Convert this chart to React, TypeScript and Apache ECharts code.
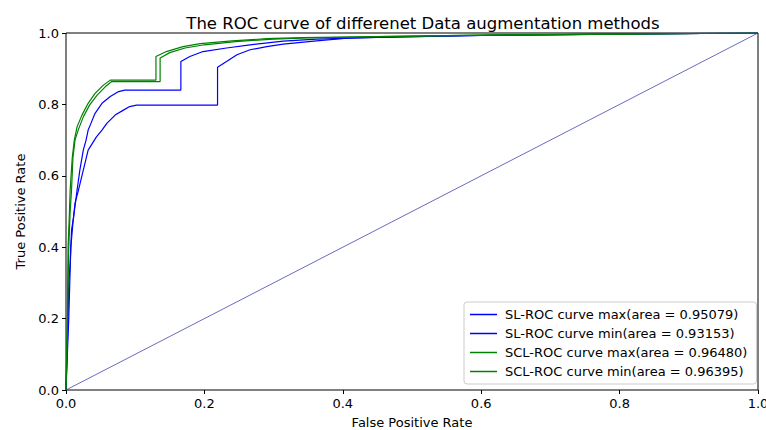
import React, { useEffect, useRef } from "react";
import * as echarts from "echarts";

const titleText = "The ROC curve of differenet Data augmentation methods";
const xAxisName = "False Positive Rate";
const yAxisName = "True Positive Rate";

const seriesNames = [
  "SL-ROC curve max(area = 0.95079)",
  "SL-ROC curve min(area = 0.93153)",
  "SCL-ROC curve max(area = 0.96480)",
  "SCL-ROC curve min(area = 0.96395)",
];

const slMax: number[][] = [
  [0, 0], [0.003, 0.2], [0.004, 0.3], [0.006, 0.355], [0.008, 0.448], [0.011, 0.485],
  [0.014, 0.53], [0.016, 0.56], [0.020, 0.616], [0.025, 0.672], [0.029, 0.70],
  [0.032, 0.728], [0.035, 0.742], [0.042, 0.775], [0.052, 0.803], [0.064, 0.822],
  [0.076, 0.836], [0.085, 0.840], [0.166, 0.840], [0.166, 0.920], [0.179, 0.934],
  [0.198, 0.948], [0.232, 0.958], [0.266, 0.967], [0.314, 0.977], [0.362, 0.983],
  [0.45, 0.988], [0.6, 0.993], [0.8, 0.997], [1, 1],
];

const slMin: number[][] = [
  [0, 0], [0.004, 0.2], [0.006, 0.336], [0.007, 0.401], [0.010, 0.467], [0.013, 0.523],
  [0.018, 0.56], [0.025, 0.616], [0.032, 0.672], [0.044, 0.709], [0.052, 0.728],
  [0.059, 0.747], [0.071, 0.77], [0.083, 0.784], [0.092, 0.794], [0.102, 0.798],
  [0.219, 0.798], [0.219, 0.904], [0.232, 0.920], [0.247, 0.939], [0.266, 0.953],
  [0.290, 0.962], [0.314, 0.969], [0.362, 0.978], [0.41, 0.986], [0.5, 0.99],
  [0.6, 0.993], [0.8, 0.997], [1, 1],
];

const sclMax: number[][] = [
  [0, 0], [0.002, 0.2], [0.003, 0.40], [0.005, 0.50], [0.006, 0.56], [0.009, 0.65],
  [0.012, 0.70], [0.016, 0.737], [0.023, 0.77], [0.032, 0.803], [0.042, 0.831],
  [0.054, 0.854], [0.064, 0.868], [0.130, 0.868], [0.130, 0.934], [0.145, 0.948],
  [0.169, 0.962], [0.194, 0.97], [0.24, 0.978], [0.29, 0.984], [0.34, 0.987],
  [0.45, 0.99], [0.6, 0.994], [0.8, 0.997], [1, 1],
];

const sclMin: number[][] = [
  [0, 0], [0.002, 0.18], [0.004, 0.40], [0.006, 0.50], [0.008, 0.56], [0.010, 0.65],
  [0.013, 0.70], [0.018, 0.73], [0.025, 0.765], [0.034, 0.798], [0.045, 0.826],
  [0.057, 0.85], [0.066, 0.864], [0.136, 0.864], [0.136, 0.930], [0.15, 0.945],
  [0.172, 0.958], [0.2, 0.967], [0.245, 0.976], [0.3, 0.983], [0.35, 0.986],
  [0.45, 0.99], [0.6, 0.994], [0.8, 0.997], [1, 1],
];

const diagonal: number[][] = [[0, 0], [1, 1]];

const seriesData = [slMax, slMin, sclMax, sclMin];
const seriesColors = ["#0000ff", "#0000ff", "#008000", "#008000"];

const FONT = "DejaVu Sans";

export default function App() {
  const ref = useRef<HTMLDivElement>(null);
  useEffect(() => {
    document.body.style.margin = "0";
    if (!ref.current) return;
    const chart = echarts.init(ref.current, undefined, { renderer: "svg" });
    const tickLabel = { color: "#000", fontFamily: FONT, fontSize: 13, formatter: (v: number) => v.toFixed(1) };
    chart.setOption({
      animation: false,
      backgroundColor: "#fff",
      title: {
        text: titleText,
        left: 418,
        textAlign: "center",
        top: 10,
        textStyle: { color: "#000", fontFamily: FONT, fontSize: 16.5, fontWeight: "normal" },
      },
      grid: {
        left: 66, right: 8, top: 33, bottom: 40,
        outerBoundsMode: "none",
        containLabel: false,
        show: true, borderColor: "#000", borderWidth: 1, backgroundColor: "transparent",
      },
      xAxis: {
        type: "value", min: 0, max: 1, interval: 0.2,
        name: xAxisName, nameLocation: "middle", nameGap: 26,
        nameTextStyle: { color: "#000", fontFamily: FONT, fontSize: 13 },
        axisLine: { show: false },
        axisTick: { show: true, inside: false, length: 4, lineStyle: { color: "#000", width: 1 } },
        axisLabel: { ...tickLabel, margin: 7 },
        splitLine: { show: false },
      },
      yAxis: {
        type: "value", min: 0, max: 1, interval: 0.2,
        name: yAxisName, nameLocation: "middle", nameGap: 34,
        nameTextStyle: { color: "#000", fontFamily: FONT, fontSize: 13 },
        axisLine: { show: false },
        axisTick: { show: true, inside: false, length: 4, lineStyle: { color: "#000", width: 1 } },
        axisLabel: { ...tickLabel, margin: 7 },
        splitLine: { show: false },
      },
      legend: {
        data: seriesNames.map((n) => ({ name: n, icon: "rect" })),
        orient: "vertical",
        left: 464,
        top: 302,
        itemWidth: 27,
        itemHeight: 1.5,
        itemGap: 4,
        padding: [5, 9, 5, 6],
        backgroundColor: "#fff",
        borderColor: "#cccccc",
        borderWidth: 1,
        borderRadius: 3,
        textStyle: { color: "#000", fontFamily: FONT, fontSize: 13, lineHeight: 15, padding: [0, 0, 0, 3] },
      },
      series: [
        ...seriesData.map((d, i) => ({
          name: seriesNames[i],
          type: "line",
          data: d,
          showSymbol: false,
          symbol: "none",
          lineStyle: { color: seriesColors[i], width: 1.2 },
          itemStyle: { color: seriesColors[i] },
          z: 2 + i,
        })),
        {
          name: "diag",
          type: "line",
          data: diagonal,
          showSymbol: false,
          symbol: "none",
          lineStyle: { color: "#2a2aa6", width: 0.7 },
          z: 1,
        },
      ],
    });
    return () => chart.dispose();
  }, []);
  return <div ref={ref} style={{ width: 766, height: 430, position: "absolute", left: 0, top: 0 }} />;
}
